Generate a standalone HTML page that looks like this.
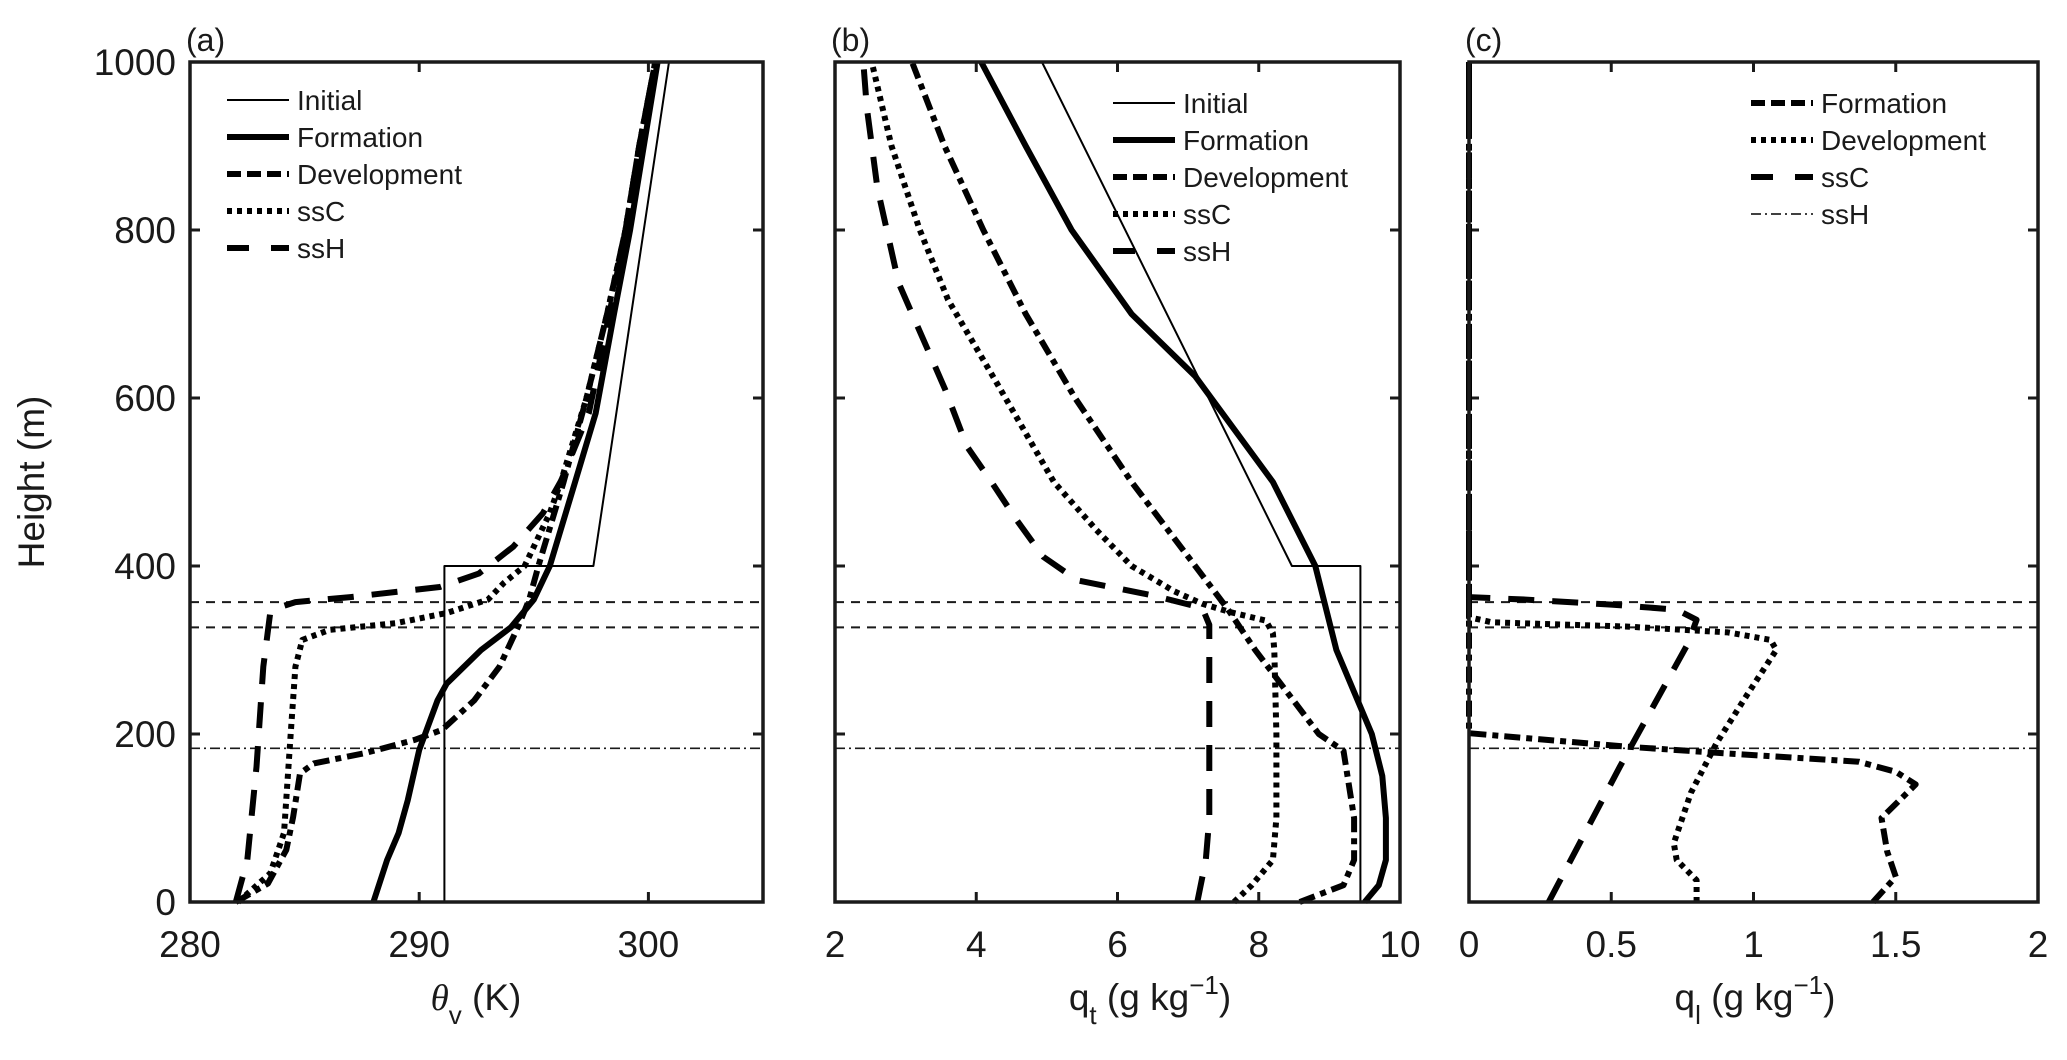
<!DOCTYPE html>
<html><head><meta charset="utf-8"><style>
body{margin:0;background:#fff;}
svg{display:block;font-family:"Liberation Sans","DejaVu Sans",sans-serif;}
</style></head><body>
<svg id="fig" width="2067" height="1060" viewBox="0 0 2067 1060"></svg>
<script>
// ---------- data ----------
const yTicks = [0,200,400,600,800,1000];
const aTicks = [280,290,300];
const bTicks = [2,4,6,8,10];
const cTicks = [0,0.5,1,1.5,2];
const cTickLabels = ["0","0.5","1","1.5","2"];
const refDash1 = 357, refDash2 = 327, refDashDot = 183;

const aInitZ = [0,400,400,1000];
const aInitT = [291.1,291.1,297.6,300.9];
const aFormZ = [0,50,82,121,181,240,260,300,327,360,400,500,582,700,800,900,1000];
const aFormT = [288.0,288.6,289.1,289.5,290.0,290.8,291.2,292.7,294.0,295.0,295.7,296.8,297.7,298.5,299.2,299.8,300.4];
const aDevZ = [0,22,62,101,153,165,177,193,205,240,280,327,360,400,500,600,700,800,900,1000];
const aDevT = [282.0,283.4,284.2,284.5,284.8,285.4,287.6,289.8,291.0,292.4,293.5,294.3,294.8,295.2,296.3,297.3,298.2,299.0,299.6,300.3];
const aSsCZ = [0,34,82,202,280,312,324,332,344,360,380,400,463,502,600,700,800,900,1000];
const aSsCT = [282.1,283.5,284.1,284.4,284.6,284.9,286.1,289.0,291.2,293.0,293.7,294.6,295.7,296.2,297.3,298.2,299.0,299.6,300.3];
const aSsHZ = [0,50,161,280,344,350,357,363,375,391,423,463,502,582,700,800,900,1000];
const aSsHT = [282.0,282.5,282.9,283.2,283.5,283.8,284.6,287.0,290.9,292.6,294.1,295.4,296.2,297.4,298.3,299.0,299.6,300.3];

const bInitZ = [0,400,400,1000];
const bInitQ = [9.44,9.44,8.47,4.93];
const bFormZ = [0,20,50,100,150,200,250,300,400,500,626,700,800,900,1000];
const bFormQ = [9.5,9.7,9.8,9.8,9.75,9.6,9.35,9.1,8.8,8.2,7.1,6.2,5.35,4.7,4.07];
const bDevZ = [0,20,50,100,180,200,250,300,350,400,500,600,700,800,900,1000];
const bDevQ = [8.58,9.2,9.35,9.35,9.2,8.85,8.4,7.95,7.55,7.1,6.2,5.4,4.7,4.1,3.55,3.09];
const bSsCZ = [0,20,50,100,200,300,320,335,345,355,370,400,443,500,621,717,800,900,1000];
const bSsCQ = [7.65,7.9,8.2,8.25,8.25,8.22,8.2,8.1,7.6,7.2,6.8,6.2,5.7,5.1,4.27,3.6,3.2,2.8,2.52];
const bSsHZ = [0,50,100,200,300,330,350,365,383,411,455,502,542,610,737,850,946,1000];
const bSsHQ = [7.13,7.25,7.3,7.3,7.3,7.3,7.2,6.5,5.43,4.95,4.57,4.2,3.87,3.56,2.9,2.6,2.45,2.4];

const cFormZ = [0,30,60,100,140,155,167,177,185,201,1000];
const cFormQ = [1.42,1.5,1.47,1.45,1.57,1.5,1.37,0.9,0.55,0,0];
const cDevZ = [0,6,26,50,70,130,189,248,300,312,321,328,333,339,1000];
const cDevQ = [0.8,0.8,0.8,0.73,0.72,0.78,0.87,0.98,1.08,1.06,0.91,0.55,0.08,0,0];
const cSsCZ = [0,161,308,336,348,354,360,363,1000];
const cSsCQ = [0.28,0.53,0.77,0.8,0.73,0.5,0.2,0,0];
const cSsHZ = [0,1000];
const cSsHQ = [0,0];

// ---------- layout ----------
const NS = "http://www.w3.org/2000/svg";
const svg = document.getElementById("fig");
const TOP = 62, BOT = 902;
const yS = z => BOT - (z/1000)*(BOT-TOP);
const panels = [
  {id:"a", x0:190, x1:763, min:280, max:305},
  {id:"b", x0:835, x1:1400, min:2, max:10},
  {id:"c", x0:1469, x1:2038, min:0, max:2}
];
const xS = (p,v) => p.x0 + (v-p.min)/(p.max-p.min)*(p.x1-p.x0);
const C = "#1a1a1a";

function el(tag, attrs, parent){
  const e = document.createElementNS(NS, tag);
  for (const k in attrs) e.setAttribute(k, attrs[k]);
  (parent||svg).appendChild(e);
  return e;
}
function txt(s, x, y, size, anchor, parent){
  const t = el("text", {x:x, y:y, "font-size":size, "text-anchor":anchor||"middle", fill:C}, parent);
  t.textContent = s;
  return t;
}
const styles = {
  initial:{w:2, dash:""},
  formation:{w:6, dash:""},
  devdash:{w:6, dash:"16 6 6 6"},
  dotted:{w:6, dash:"5 5"},
  dashed:{w:6, dash:"26 18"},
  thindd:{w:1.6, dash:"10 4 2 4"}
};
function series(p, zs, vs, st, name){
  let d = "";
  for (let i=0;i<zs.length;i++){
    d += (i?"L":"M") + xS(p,vs[i]).toFixed(1) + " " + yS(zs[i]).toFixed(1);
  }
  const e = el("path", {d:d, fill:"none", stroke:"#000", "stroke-width":st.w, "stroke-dasharray":st.dash, "stroke-linejoin":"round"});
  
  
  return e;
}

panels.forEach(p => {
  const g = el("g", {});
  
  
  [[refDash1,"9 7",2],[refDash2,"9 7",2],[refDashDot,"10 4 2 4",1.6]].forEach((r,i) => {
    const l = el("line", {x1:p.x0, x2:p.x1, y1:yS(r[0]), y2:yS(r[0]), stroke:C, "stroke-width":r[2], "stroke-dasharray":r[1]}, g);
    
    
  });
  yTicks.forEach(t => {
    const y = yS(t);
    el("line", {x1:p.x0, x2:p.x0+10, y1:y, y2:y, stroke:C, "stroke-width":3}, g);
    el("line", {x1:p.x1, x2:p.x1-10, y1:y, y2:y, stroke:C, "stroke-width":3}, g);
  });
  const xt = p.id==="a"?aTicks:(p.id==="b"?bTicks:cTicks);
  xt.forEach((t,i) => {
    const x = xS(p,t);
    el("line", {x1:x, x2:x, y1:BOT, y2:BOT-10, stroke:C, "stroke-width":3}, g);
    el("line", {x1:x, x2:x, y1:TOP, y2:TOP+10, stroke:C, "stroke-width":3}, g);
    const lab = txt(p.id==="c"?cTickLabels[i]:String(t), x, 957, 37, "middle", g);
    
    
  });
  const pl = txt("("+p.id+")", p.x0-4, 51, 32, "start", g);
  
  
  p.g = g;
});

yTicks.forEach(t => {
  const lab = txt(String(t), 176, yS(t)+13, 37, "end");
  
  
});

const [pa,pb,pc] = panels;
series(pa, aInitZ, aInitT, styles.initial, "a-initial-line");
series(pa, aFormZ, aFormT, styles.formation, "a-formation-line");
series(pa, aDevZ, aDevT, styles.devdash, "a-development-line");
series(pa, aSsCZ, aSsCT, styles.dotted, "a-ssc-line");
series(pa, aSsHZ, aSsHT, styles.dashed, "a-ssh-line");

series(pb, bInitZ, bInitQ, styles.initial, "b-initial-line");
series(pb, bFormZ, bFormQ, styles.formation, "b-formation-line");
series(pb, bDevZ, bDevQ, styles.devdash, "b-development-line");
series(pb, bSsCZ, bSsCQ, styles.dotted, "b-ssc-line");
series(pb, bSsHZ, bSsHQ, styles.dashed, "b-ssh-line");

series(pc, cSsHZ, cSsHQ, styles.thindd, "c-ssh-line");
series(pc, cFormZ, cFormQ, styles.devdash, "c-formation-line");
series(pc, cDevZ, cDevQ, styles.dotted, "c-development-line");
series(pc, cSsCZ, cSsCQ, styles.dashed, "c-ssc-line");

panels.forEach(p => {
  const r = el("rect", {x:p.x0, y:TOP, width:p.x1-p.x0, height:BOT-TOP, fill:"none", stroke:C, "stroke-width":3.5});
  
  
});

function legend(x0, y0, entries, name){
  const g = el("g", {});
  
  
  entries.forEach((e,i) => {
    const y = y0 + i*37;
    el("line", {x1:x0, x2:x0+62, y1:y, y2:y, stroke:"#000", "stroke-width":e[1].w, "stroke-dasharray":e[1].dash}, g);
    const t = txt(e[0], x0+70, y+10, 28, "start", g);
    
    
  });
}
legend(227, 100, [["Initial",styles.initial],["Formation",styles.formation],["Development",{w:6,dash:"14 6"}],["ssC",styles.dotted],["ssH",{w:6,dash:"22 22"}]], "legend-a");
legend(1113, 103, [["Initial",styles.initial],["Formation",styles.formation],["Development",{w:6,dash:"14 6"}],["ssC",styles.dotted],["ssH",{w:6,dash:"22 22"}]], "legend-b");
legend(1751, 103, [["Formation",{w:6,dash:"14 6"}],["Development",styles.dotted],["ssC",{w:6,dash:"22 22"}],["ssH",styles.thindd]], "legend-c");

const yt = txt("Height (m)", 0, 0, 37, "middle");
yt.setAttribute("transform", "translate(44 482) rotate(-90)");



const xa = el("text", {x:476, y:1010, "font-size":37, "text-anchor":"middle", fill:C});
xa.innerHTML = '<tspan font-family="Liberation Serif, serif" font-style="italic">θ</tspan><tspan font-size="26" dy="14">v</tspan><tspan dy="-14"> (K)</tspan>';



const xb = el("text", {x:1150, y:1010, "font-size":37, "text-anchor":"middle", fill:C});
xb.innerHTML = 'q<tspan font-size="26" dy="14">t</tspan><tspan dy="-14"> (g kg</tspan><tspan font-size="26" dy="-16">−1</tspan><tspan dy="16">)</tspan>';



const xc = el("text", {x:1755, y:1010, "font-size":37, "text-anchor":"middle", fill:C});
xc.innerHTML = 'q<tspan font-size="26" dy="14">l</tspan><tspan dy="-14"> (g kg</tspan><tspan font-size="26" dy="-16">−1</tspan><tspan dy="16">)</tspan>';


</script>
</body></html>
